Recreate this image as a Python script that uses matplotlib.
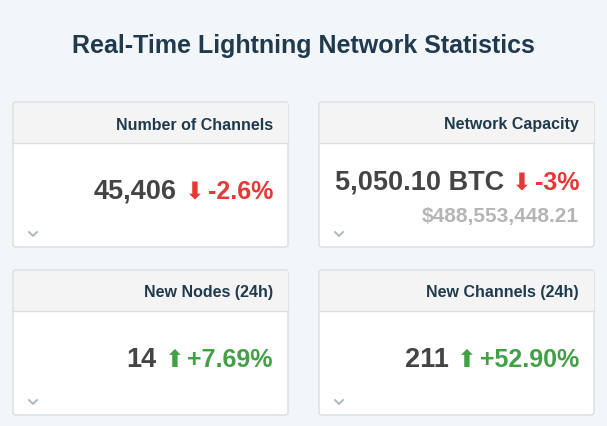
import matplotlib.pyplot as plt
from matplotlib.patches import FancyBboxPatch, Rectangle

plt.rcParams["font.family"] = "Liberation Sans"

# card data
titles = ["Number of Channels", "Network Capacity", "New Nodes (24h)", "New Channels (24h)"]
values = ["45,406", "5,050.10 BTC", "14", "211"]
changes = ["-2.6%", "-3%", "+7.69%", "+52.90%"]
subvalues = ["", "$488,553,448.21", "", ""]

W, H = 607, 427
fig = plt.figure(figsize=(W / 100, H / 100), dpi=100, facecolor="#f3f6f9")
ax = fig.add_axes([0, 0, 1, 1])
ax.set_xlim(0, W)
ax.set_ylim(H, 0)
ax.axis("off")

ax.text(W / 2, 46, "Real-Time Lightning Network Statistics", ha="center", va="center",
        fontsize=18, fontweight="bold", color="#1f3a4d")

card_x = [13, 319, 13, 319]
card_y = [103, 103, 271, 271]
cw, ch = 275, 145

fig.canvas.draw()
r = fig.canvas.get_renderer()

def width_px(t):
    return t.get_window_extent(r).width

for i in range(4):
    x0, y0 = card_x[i], card_y[i]
    ax.add_patch(FancyBboxPatch((x0, y0), cw, ch, boxstyle="round,pad=0,rounding_size=3",
                                fc="white", ec="#d8dde2", lw=1))
    ax.add_patch(Rectangle((x0 + 0.5, y0 + 0.5), cw - 1, 40, fc="#f4f4f4", ec="none"))
    ax.plot([x0, x0 + cw], [y0 + 40.5, y0 + 40.5], color="#dddddd", lw=1)
    ax.text(x0 + cw - 15, y0 + 22, titles[i], ha="right", va="center",
            fontsize=11.5, fontweight="bold", color="#1f3a4d")

    up = changes[i].startswith("+")
    col = "#43a047" if up else "#e53935"
    vy = y0 + 89 if subvalues[i] == "" else y0 + 80
    right = x0 + cw - 15
    t1 = ax.text(right, vy, changes[i], ha="right", va="center", fontsize=18,
                 fontweight="bold", color=col)
    w1 = width_px(t1)
    t2 = ax.text(right - w1 - 3, vy, "⬆" if up else "⬇", ha="right", va="center",
                 fontsize=17, color=col, family="DejaVu Sans")
    w2 = width_px(t2)
    ax.text(right - w1 - w2 - 11, vy, values[i], ha="right", va="center", fontsize=19.5,
            fontweight="bold", color="#444444")
    if subvalues[i]:
        ax.text(right, y0 + 114, subvalues[i], ha="right", va="center", fontsize=15,
                fontweight="bold", color="#b5b5b5")
    # chevron
    cx, cy = x0 + 20, y0 + 132
    ax.plot([cx - 4, cx, cx + 4], [cy - 2, cy + 2, cy - 2], color="#aab2ba", lw=1.3)

fig.savefig("out.png", dpi=100, facecolor=fig.get_facecolor())
